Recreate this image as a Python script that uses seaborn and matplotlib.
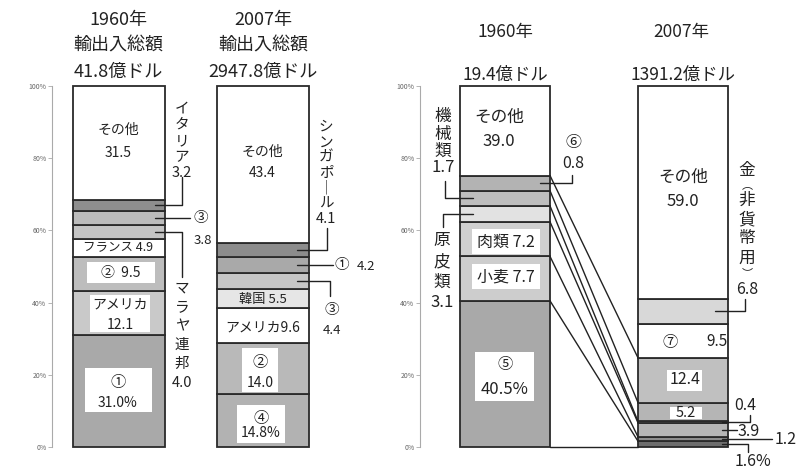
import numpy as np
import matplotlib
matplotlib.use("Agg")
import matplotlib.pyplot as plt
from matplotlib.patches import Rectangle
import seaborn as sns

sns.set_theme(style="white")
plt.rcParams['font.family'] = ['Noto Sans CJK JP', 'DejaVu Sans']

# ---- left: trade partners (%)
years = ["1960年", "2007年"]
trade_totals = ["41.8億ドル", "2947.8億ドル"]
partners_1960 = ["①", "アメリカ", "②", "フランス", "マラヤ連邦", "③", "イタリア", "その他"]
share_1960 = [31.0, 12.1, 9.5, 4.9, 4.0, 3.8, 3.2, 31.5]
partners_2007 = ["④", "②", "アメリカ", "韓国", "③", "①", "シンガポール", "その他"]
share_2007 = [14.8, 14.0, 9.6, 5.5, 4.4, 4.2, 4.1, 43.4]

# ---- right: import items (%)
import_totals = ["19.4億ドル", "1391.2億ドル"]
items_1960 = ["⑤", "小麦", "肉類", "原皮類", "機械類", "⑥", "その他"]
items_share_1960 = [40.5, 7.7, 7.2, 3.1, 1.7, 0.8, 39.0]
# the 1960 column of the original is not drawn to scale: heights as drawn there
items_drawn_1960 = [40.5, 12.3, 9.6, 4.4, 4.2, 4.2, 24.8]
items_2007 = ["⑤", "小麦", "肉類", "原皮類", "機械類", "⑥", "⑦", "金(非貨幣用)", "その他"]
items_share_2007 = [1.6, 1.2, 3.9, 0.4, 5.2, 12.4, 9.5, 6.8, 59.0]

# greys of the segments
col_p1960 = ["#a9a9a9", "#c9c9c9", "#bdbdbd", "#ffffff", "#c4c4c4", "#bcbcbc", "#8e8e8e", "#ffffff"]
col_p2007 = ["#b2b2b2", "#b9b9b9", "#ffffff", "#e6e6e6", "#c6c6c6", "#a9a9a9", "#8c8c8c", "#ffffff"]
col_i1960 = ["#a9a9a9", "#cdcdcd", "#d0d0d0", "#e2e2e2", "#bebebe", "#b3b3b3", "#ffffff"]
col_i2007 = ["#6e6e6e", "#8e8e8e", "#b6b6b6", "#9a9a9a", "#b5b5b5", "#c0c0c0", "#ffffff", "#d8d8d8", "#ffffff"]

INK = "#222222"
EDGE = "#2a2a2a"


def py(row):
    # pixel row of the picture -> percent on the axis
    return (447 - row) / 3.61


def stack(ax, xc, values, colors, width):
    values = np.asarray(values, dtype=float)
    bottoms = np.r_[0, np.cumsum(values)[:-1]]
    for v, b, c in zip(values, bottoms, colors):
        sns.barplot(x=[xc], y=[v], bottom=b, native_scale=True, width=width,
                    color=c, saturation=1, edgecolor=EDGE, linewidth=1.3,
                    errorbar=None, ax=ax)
    return bottoms, bottoms + values


def put(ax, x, row, s, size=10, **kw):
    ax.text(x, py(row), s, ha="center", va="center", fontsize=size,
            color=INK, clip_on=False, zorder=5, **kw)


def vtext(ax, x, row0, step, chars, size):
    for i, ch in enumerate(chars):
        put(ax, x, row0 + i * step, ch, size)


def lead(ax, xs, ys):
    ax.plot(xs, ys, color=INK, lw=1.0, clip_on=False, zorder=4)


def box(ax, x0, x1, r0, r1):
    ax.add_patch(Rectangle((x0, py(r1)), x1 - x0, py(r0) - py(r1),
                           facecolor="white", edgecolor="none", zorder=3))


def style_axis(ax, x0, x1):
    ax.set_xlim(x0, x1)
    ax.set_ylim(0, 100)
    sns.despine(ax=ax, bottom=True)
    ax.spines["left"].set_color("#aaaaaa")
    ax.spines["left"].set_linewidth(0.8)
    ax.set_xticks([])
    ax.set_yticks(range(0, 101, 20))
    ax.set_yticklabels([f"{v}%" for v in range(0, 101, 20)])
    ax.tick_params(axis="y", left=True, length=3, width=0.6, color="#aaaaaa",
                   labelsize=5, labelcolor="#666666", pad=1)
    ax.set_xlabel("")
    ax.set_ylabel("")
    for p in ax.patches:
        p.set_clip_on(False)
    ax.patch.set_alpha(0)


fig = plt.figure(figsize=(8.02, 4.71), dpi=100)
ax1 = fig.add_axes([52 / 802, 24 / 471, 300 / 802, 361 / 471])
ax2 = fig.add_axes([420 / 802, 24 / 471, 382 / 802, 361 / 471])

# ================= left chart =================
b1, t1 = stack(ax1, 118.5, share_1960, col_p1960, 92)
b2, t2 = stack(ax1, 263, share_2007, col_p2007, 92)
m1 = (b1 + t1) / 2
m2 = (b2 + t2) / 2

for xc, yr, tot in zip([118, 263], years, trade_totals):
    put(ax1, xc, 20, yr, 13)
    put(ax1, xc, 46, "輸出入総額", 13)
    put(ax1, xc, 72, tot, 13)

# 1960 column
put(ax1, 118, 130, partners_1960[7], 10)
put(ax1, 118, 153, f"{share_1960[7]}", 10)
put(ax1, 118, 248, f"{partners_1960[3]} {share_1960[3]}", 9)
box(ax1, 87, 155, 262, 283)
put(ax1, 121, 273, f"{partners_1960[2]}  {share_1960[2]}", 10)
box(ax1, 90, 150, 295, 332)
put(ax1, 120, 305, partners_1960[1], 10)
put(ax1, 120, 325, f"{share_1960[1]}", 10)
box(ax1, 85, 152, 368, 412)
put(ax1, 118, 382, partners_1960[0], 11)
put(ax1, 118, 403, f"{share_1960[0]:.1f}%", 10)

vtext(ax1, 182, 109, 16, list(partners_1960[6]) + [f"{share_1960[6]}"], 10.5)
lead(ax1, [155, 182, 182], [m1[6], m1[6], py(177)])
lead(ax1, [155, 190], [m1[5], m1[5]])
put(ax1, 201, 218, partners_1960[5], 10.5)
put(ax1, 203, 241, f"{share_1960[5]}", 9.5)
lead(ax1, [155, 182, 182], [m1[4], m1[4], py(277)])
vtext(ax1, 182, 288, 19, list(partners_1960[4]) + [f"{share_1960[4]}"], 10.5)

# 2007 column
put(ax1, 262, 152, partners_2007[7], 10)
put(ax1, 262, 173, f"{share_2007[7]}", 10)
put(ax1, 263, 300, f"{partners_2007[3]} {share_2007[3]}", 9.5)
put(ax1, 263, 328, f"{partners_2007[2]}{share_2007[2]}", 10)
box(ax1, 242, 278, 348, 392)
put(ax1, 260, 362, partners_2007[1], 11)
put(ax1, 260, 383, f"{share_2007[1]}", 10)
box(ax1, 237, 285, 405, 443)
put(ax1, 261, 418, partners_2007[0], 11)
put(ax1, 261, 433, f"{share_2007[0]:.1f}%", 10)

sing = partners_2007[6].replace("ー", "｜")
vtext(ax1, 326, 127, 15.3, list(sing) + [f"{share_2007[6]}"], 10.5)
lead(ax1, [297, 327, 327], [m2[6], m2[6], py(228)])
lead(ax1, [297, 333], [m2[5], m2[5]])
put(ax1, 342, 265, partners_2007[5], 10.5)
put(ax1, 366, 266, f"{share_2007[5]}", 9.5)
lead(ax1, [297, 330, 330], [m2[4], m2[4], py(296)])
put(ax1, 332, 310, partners_2007[4], 10.5)
put(ax1, 332, 330, f"{share_2007[4]}", 9.5)

style_axis(ax1, 52, 352)

# ================= right chart =================
b3, t3 = stack(ax2, 505, items_drawn_1960, col_i1960, 90)
b4, t4 = stack(ax2, 683, items_share_2007, col_i2007, 90)
m3 = (b3 + t3) / 2
m4 = (b4 + t4) / 2

put(ax2, 505, 32, years[0], 12.5)
put(ax2, 505, 75, import_totals[0], 12.5)
put(ax2, 681, 32, years[1], 12.5)
put(ax2, 683, 75, import_totals[1], 12.5)

# links between the two columns
for k in range(6):
    lead(ax2, [550, 638], [t3[k], t4[k]])
lead(ax2, [550, 638], [0, 0])

# 1960 column
put(ax2, 499, 117, items_1960[6], 12)
put(ax2, 499, 142, f"{items_share_1960[6]}", 12)
box(ax2, 472, 540, 229, 254)
put(ax2, 506, 242, f"{items_1960[2]} {items_share_1960[2]}", 11.5)
box(ax2, 472, 540, 264, 289)
put(ax2, 506, 277, f"{items_1960[1]} {items_share_1960[1]}", 11.5)
box(ax2, 475, 534, 352, 401)
put(ax2, 505, 365, items_1960[0], 11)
put(ax2, 505, 390, f"{items_share_1960[0]}%", 12)

vtext(ax2, 443, 117, 17, list(items_1960[4]) + [f"{items_share_1960[4]}"], 12)
lead(ax2, [473, 445, 445], [m3[4], m3[4], py(181)])
lead(ax2, [473, 443, 443], [m3[3], m3[3], py(227)])
vtext(ax2, 442, 241, 20.5, list(items_1960[3]) + [f"{items_share_1960[3]}"], 12)
lead(ax2, [540, 572, 572], [m3[5], m3[5], py(175)])
put(ax2, 573, 143, items_1960[5], 11.5)
put(ax2, 573, 163, f"{items_share_1960[5]}", 11.5)

# 2007 column
put(ax2, 683, 177, items_2007[8], 12)
put(ax2, 683, 202, f"{items_share_2007[8]}", 12)
put(ax2, 670, 342, items_2007[6], 11)
put(ax2, 717, 342, f"{items_share_2007[6]}", 11)
box(ax2, 667, 702, 370, 391)
put(ax2, 685, 380, f"{items_share_2007[5]}", 11.5)
box(ax2, 670, 702, 407, 419)
put(ax2, 686, 413, f"{items_share_2007[4]}", 10.5)

gold = list(items_2007[7].replace("(", "︵").replace(")", "︶"))
gold_rows = [170, 185, 200, 220, 239, 258, 273]
for r, ch in zip(gold_rows, gold):
    put(ax2, 747, r, ch, 8 if ch in "︵︶" else 12)
put(ax2, 747, 290, f"{items_share_2007[7]}", 11.5)
lead(ax2, [715, 745, 745], [m4[7], m4[7], py(299)])

lead(ax2, [722, 750, 750], [m4[3], m4[3], py(415)])
put(ax2, 745, 406, f"{items_share_2007[3]}", 11.5)
lead(ax2, [722, 737], [m4[2], m4[2]])
put(ax2, 749, 431, f"{items_share_2007[2]}", 11.5)
lead(ax2, [722, 772], [m4[1], m4[1]])
put(ax2, 786, 440, f"{items_share_2007[1]}", 11.5)
lead(ax2, [722, 748, 748], [m4[0], m4[0], py(452)])
put(ax2, 753, 462, f"{items_share_2007[0]}%", 11.5)

style_axis(ax2, 420, 802)

fig.savefig("out.png", dpi=100)
